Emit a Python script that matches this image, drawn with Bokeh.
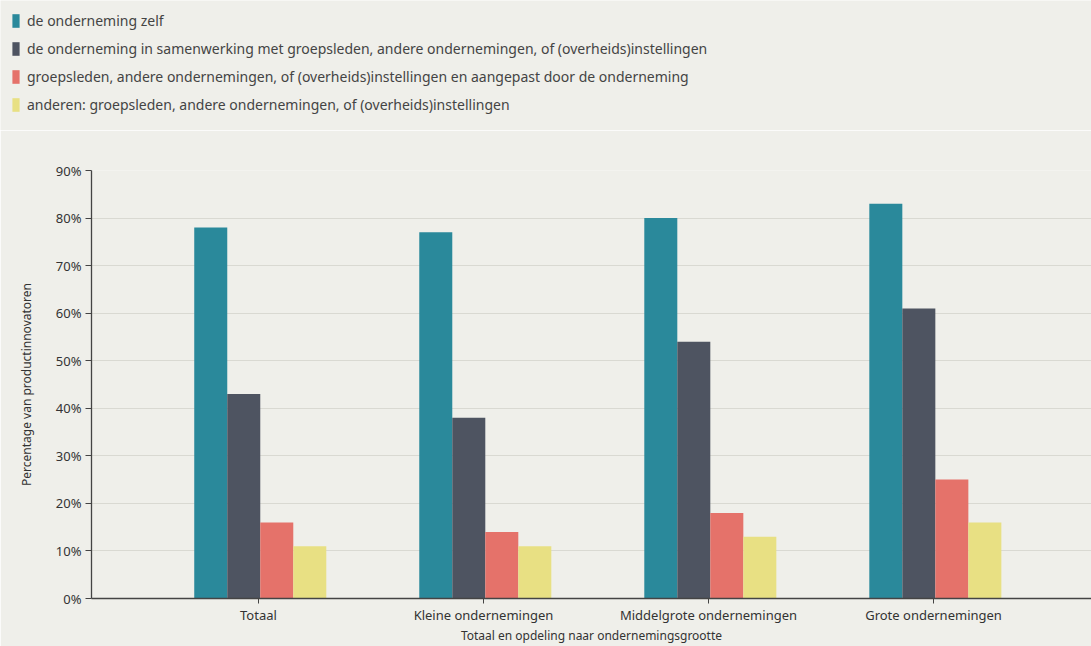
from bokeh.plotting import figure
from bokeh.models import (Range1d, FixedTicker, PrintfTickFormatter, Legend, LegendItem,
                          ColumnDataSource)
from bokeh.layouts import column
from bokeh.transform import dodge
from bokeh.embed import file_html
from bokeh.resources import INLINE

categories = ["Totaal", "Kleine ondernemingen", "Middelgrote ondernemingen", "Grote ondernemingen"]
series_names = [
    "de onderneming zelf",
    "de onderneming in samenwerking met groepsleden, andere ondernemingen, of (overheids)instellingen",
    "groepsleden, andere ondernemingen, of (overheids)instellingen en aangepast door de onderneming",
    "anderen: groepsleden, andere ondernemingen, of (overheids)instellingen",
]
zelf = [78, 77, 80, 83]
samenwerking = [43, 38, 54, 61]
aangepast = [16, 14, 18, 25]
anderen = [11, 11, 13, 16]
colors = ["#2a899b", "#4e5461", "#e5726a", "#e8e083"]

FONT = "Noto Sans"
BG = "#efefea"

x = list(range(len(categories)))
src = ColumnDataSource(dict(x=x, zelf=zelf, samenwerking=samenwerking,
                            aangepast=aangepast, anderen=anderen))
cols = ["zelf", "samenwerking", "aangepast", "anderen"]

# ---- legend strip above the chart (its bars lie outside its visible ranges) ----
LEG_H = 130
leg = figure(width=1091, height=LEG_H, output_backend="svg", toolbar_location=None,
             x_range=Range1d(1000, 1001), y_range=Range1d(1000, 1001),
             min_border=0, background_fill_color=BG, border_fill_color=BG,
             outline_line_color=None)
leg.frame_align = False
leg.axis.visible = False
leg.grid.visible = False
leg_renderers = [leg.vbar(x="x", top=col, width=0.1, source=src,
                          fill_color=c, line_color=None) for col, c in zip(cols, colors)]
legend = Legend(items=[LegendItem(label=n, renderers=[r]) for n, r in zip(series_names, leg_renderers)],
                location="top_left", orientation="vertical",
                glyph_width=9, glyph_height=17, label_height=17, spacing=9,
                label_standoff=7, padding=0, margin=11,
                label_text_font=FONT, label_text_font_size="14px",
                label_text_color="#444444",
                background_fill_alpha=0, border_line_alpha=0)
leg.add_layout(legend, "center")

# ---- main chart ----
p = figure(width=1091, height=646 - LEG_H, output_backend="svg", toolbar_location=None,
           x_range=Range1d(-0.742, 3.702), y_range=Range1d(0, 90),
           min_border_left=91, min_border_right=0, min_border_top=170 - LEG_H,
           min_border_bottom=40,
           background_fill_color=BG, border_fill_color=BG, outline_line_color=None)
p.frame_align = False

w = 0.1467
offsets = [-1.5 * w, -0.5 * w, 0.5 * w, 1.5 * w]
for col, off, c in zip(cols, offsets, colors):
    p.vbar(x=dodge("x", off + 0.008), top=col, width=w, source=src,
           fill_color=c, line_color=None)

p.yaxis.ticker = FixedTicker(ticks=list(range(0, 91, 10)))
p.yaxis.formatter = PrintfTickFormatter(format="%d%%")
p.xaxis.ticker = FixedTicker(ticks=x)
p.xaxis.major_label_overrides = {i: c for i, c in enumerate(categories)}
for ax in (p.xaxis[0], p.yaxis[0]):
    ax.axis_line_color = "#444444"
    ax.axis_line_width = 1.3
    ax.major_tick_line_color = "#444444"
    ax.major_tick_out = 6
    ax.major_tick_in = 0
    ax.minor_tick_line_color = None
    ax.major_label_text_font = FONT
    ax.major_label_text_font_size = "13px"
    ax.major_label_text_color = "#333333"
    ax.axis_label_text_font = FONT
    ax.axis_label_text_font_size = "12px"
    ax.axis_label_text_font_style = "normal"
    ax.axis_label_text_color = "#333333"
p.xaxis.major_tick_out = 5
p.xaxis.axis_label = "Totaal en opdeling naar ondernemingsgrootte"
p.xaxis.axis_label_standoff = 0
p.xaxis.major_label_standoff = 2
p.yaxis.axis_label = "Percentage van productinnovatoren"
p.yaxis.axis_label_standoff = 18
p.yaxis.major_label_standoff = 4

p.xgrid.grid_line_color = None
p.ygrid.grid_line_color = "#d9d9d2"
p.ygrid.grid_line_width = 1

layout = column(leg, p, spacing=0)
open("out.html", "w").write(file_html(layout, INLINE))
